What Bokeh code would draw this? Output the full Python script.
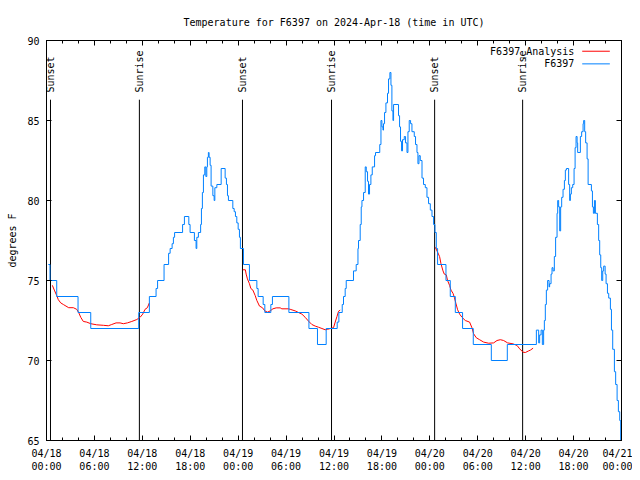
import math
import numpy as np
from bokeh.plotting import figure
from bokeh.models import FixedTicker, LinearAxis, Range1d
from bokeh.core.properties import value
from bokeh.embed import file_html
from bokeh.resources import INLINE

# ---- data (hours since 2024-04-18 00:00 UTC, degrees F) ----
obs_hours = [0.23, 0.44, 1.28, 3.95, 5.54, 11.55, 12.88, 13.72, 13.91, 14.72, 15.29, 15.48, 15.73, 15.89,
             16.04, 17.04, 17.27, 17.82, 17.98, 18.52, 18.73, 18.82, 19.02, 19.30, 19.40, 19.52, 19.65,
             19.82, 19.95, 20.07, 20.15, 20.27, 20.36, 20.49, 20.61, 20.83, 20.99, 21.08, 21.33, 21.87,
             22.37, 22.53, 22.66, 22.78, 23.33, 23.50, 23.66, 23.83, 24.00, 24.16, 24.28, 24.66, 25.41,
             26.34, 26.50, 27.13, 27.34, 28.09, 28.29, 30.35, 32.86, 33.93, 35.02, 36.40, 36.61, 37.03,
             37.19, 37.40, 37.53, 38.44, 38.78, 39.00, 39.07, 39.28, 39.41, 39.50, 39.70, 39.91, 40.04,
             40.20, 40.32, 40.45, 40.62, 40.79, 41.08, 41.20, 41.73, 41.88, 42.00, 42.13, 42.20, 42.33,
             42.50, 42.70, 42.83, 43.00, 43.13, 43.25, 43.38, 43.46, 44.08, 44.21, 44.33, 44.46, 44.58,
             44.80, 44.96, 45.14, 45.26, 45.42, 45.59, 45.76, 46.05, 46.21, 46.39, 46.51, 46.64, 46.80,
             47.02, 47.21, 47.43, 47.64, 47.84, 48.06, 48.27, 48.47, 48.64, 48.81, 48.97, 50.02, 50.56,
             51.19, 52.10, 53.44, 55.70, 57.70, 61.34, 61.63, 61.75, 61.93, 62.09, 62.25, 62.34, 62.46,
             62.59, 62.75, 62.93, 63.00, 63.18, 63.30, 63.43, 63.59, 63.75, 63.93, 64.01, 64.13, 64.26,
             64.38, 64.51, 64.68, 64.85, 64.97, 65.10, 65.38, 65.51, 65.60, 65.72, 65.89, 66.06, 66.19,
             66.31, 66.44, 66.51, 66.85, 67.01, 67.19, 67.26, 67.39, 67.51, 67.69, 67.82, 68.23, 68.36,
             68.48, 68.61, 68.73, 68.98, 69.14, 69.27, 69.40, 69.52, 69.65, 69.77, 69.95, 70.07, 70.24,
             70.40, 70.61, 70.74, 70.90, 71.11, 71.27, 71.45, 71.61, 71.78, 71.90]
obs_temp = [76, 75, 74, 73, 72, 73, 74, 74.5, 75, 76, 76.7, 77, 77.3, 77.7,
            78, 78.5, 79, 78.5, 78, 77.5, 77, 77.7, 78, 78.5, 79.5, 80.5, 81.6,
            82.1, 81.5, 82.1, 82.7, 83, 82.7, 82.2, 80.9, 80.3, 80, 80.8, 81, 82,
            81.4, 81, 80.3, 80, 79.5, 79.3, 79, 78.6, 78.2, 77.7, 77, 76, 75,
            74.5, 74, 73.5, 73, 73.5, 74, 73, 72, 71, 72, 72.4, 73, 73.5,
            74, 74.5, 75, 75.6, 76, 77, 77.5, 78.5, 79.6, 80, 80.5, 82.1, 81.8,
            81.2, 80.4, 81, 81.6, 82.1, 82.8, 83, 83.5, 85, 84.6, 84.4, 84.8, 85.5,
            86.1, 86.7, 87.6, 88, 87.2, 85.6, 85, 86, 85.3, 84.6, 83.7, 83.1, 83.8,
            84, 83.6, 83, 84.3, 85, 84.8, 84.3, 84, 83.5, 83, 82.3, 82.8, 82.5,
            81.4, 81, 80.8, 80.2, 79.8, 79.4, 79, 78.5, 78, 77, 76, 75, 74,
            73, 72, 71, 70, 71, 71.9, 71.1, 71.6, 71.9, 71, 71.9, 72.5, 73.5,
            74.4, 75, 74.6, 74.8, 75.4, 75.8, 75.6, 76.5, 77.7, 79.2, 80, 79.6, 78.1,
            79.6, 80.2, 80.7, 81.25, 81.9, 82, 81, 80, 80.4, 80.8, 81, 82, 83.3,
            84, 83.6, 83, 84, 84.3, 84.8, 85, 84.3, 83.6, 82.6, 81, 80.6, 79.6,
            79.2, 80, 79.2, 78.5, 77.5, 76.6, 75.8, 75, 75.6, 75.9, 75.4, 74.8, 74.2,
            73.9, 73.2, 71.9, 70.7, 69.3, 68.5, 67.5, 66.8, 66.25, 65]

ana1_hours = [0.73, 0.98, 1.28, 1.48, 1.78, 2.11, 2.44, 2.78, 3.36, 3.78, 4.03, 4.29, 4.61, 5.04, 5.54,
              6.29, 7.12, 7.74, 8.17, 8.71, 9.21, 9.62, 10.13, 10.68, 11.30, 11.72, 12.05, 12.34, 12.63, 12.88]
ana1_temp = [74.7, 74.4, 74.06, 73.8, 73.6, 73.5, 73.4, 73.3, 73.3, 73.2, 73.0, 72.7, 72.44, 72.4, 72.3,
             72.23, 72.2, 72.17, 72.25, 72.35, 72.35, 72.3, 72.35, 72.44, 72.56, 72.7, 72.9, 73.2, 73.3, 73.6]
ana2_hours = [24.59, 24.90, 25.00, 25.16, 25.41, 25.59, 25.84, 26.13, 26.34, 26.67, 27.04, 27.34, 27.67,
              28.01, 28.35, 28.76, 29.26, 29.47, 30.30, 30.51, 31.14, 31.55, 31.98, 32.39, 32.81, 33.23,
              33.65, 34.06, 34.49, 34.90, 35.19, 35.53, 35.94, 36.15, 36.37, 36.57, 36.78]
ana2_temp = [75.67, 75.67, 75.4, 75.1, 74.8, 74.5, 74.4, 74.06, 73.75, 73.4, 73.3, 73.1, 73.02,
             73.1, 73.23, 73.29, 73.29, 73.23, 73.23, 73.2, 73.1, 73.0, 72.9, 72.7, 72.46, 72.25,
             72.15, 72.08, 72.0, 71.92, 71.95, 72.0, 72.05, 72.4, 72.75, 73.08, 73.15]
ana3_hours = [48.68, 48.97, 49.22, 49.40, 49.65, 49.81, 50.06, 50.22, 50.47, 50.65, 50.90, 51.06, 51.28,
              51.48, 51.73, 52.03, 52.44, 52.98, 53.28, 53.48, 53.82, 54.23, 54.74, 55.36, 55.99, 56.41,
              56.83, 57.24, 57.74, 58.42, 58.92, 59.25, 59.67, 59.96, 60.37, 60.59, 60.93]
ana3_temp = [77.08, 76.77, 76.5, 76.04, 75.6, 75.4, 75.35, 75.0, 74.7, 74.4, 74.2, 73.96, 73.54,
             73.17, 72.9, 72.7, 72.5, 72.4, 72.04, 71.67, 71.42, 71.3, 71.15, 71.08, 71.1, 71.25,
             71.3, 71.25, 71.1, 71.04, 70.94, 70.73, 70.52, 70.5, 70.6, 70.65, 70.77]

event_hours = [0.50, 11.63, 24.54, 35.69, 48.60, 59.62]
event_labels = ["Sunset", "Sunrise", "Sunset", "Sunrise", "Sunset", "Sunrise"]
event_top = 86.3

x_tick_hours = [0, 6, 12, 18, 24, 30, 36, 42, 48, 54, 60, 66, 72]
x_tick_labels = ["04/18\n00:00", "04/18\n06:00", "04/18\n12:00", "04/18\n18:00",
                 "04/19\n00:00", "04/19\n06:00", "04/19\n12:00", "04/19\n18:00",
                 "04/20\n00:00", "04/20\n06:00", "04/20\n12:00", "04/20\n18:00",
                 "04/21\n00:00"]
y_ticks = [65, 70, 75, 80, 85, 90]

series_names = ["F6397_Analysis", "F6397"]
series_colors = ["#ff0000", "#0080ff"]

FONT = "DejaVu Sans Mono"
FS = "10px"

p = figure(frame_width=575, frame_height=400,
           min_border_left=46, min_border_right=11, min_border_top=40, min_border_bottom=34,
           x_range=Range1d(0, 72), y_range=Range1d(65, 90),
           output_backend="svg", toolbar_location=None,
           title="Temperature for F6397 on 2024-Apr-18 (time in UTC)")
p.title.align = "center"
p.title.text_font = FONT
p.title.text_font_size = FS
p.title.text_font_style = "normal"
p.title.text_color = "black"
p.title.standoff = 26
p.grid.visible = False
p.outline_line_color = "black"
p.outline_line_width = 1
p.background_fill_color = "white"
p.border_fill_color = "white"

xt = FixedTicker(ticks=x_tick_hours, minor_ticks=list(range(0, 73, 2)))
yt = FixedTicker(ticks=y_ticks, minor_ticks=[])

xa = p.xaxis[0]
xa.ticker = xt
xa.major_label_overrides = {h: lab for h, lab in zip(x_tick_hours, x_tick_labels)}
ya = p.yaxis[0]
ya.ticker = yt
ya.axis_label = "degrees F"

# mirrored tick marks on top and right (no labels)
top_axis = LinearAxis(ticker=xt, major_label_text_font_size="1px", major_label_text_color=None,
                      major_label_standoff=0)
right_axis = LinearAxis(ticker=yt, major_label_text_font_size="1px", major_label_text_color=None,
                        major_label_standoff=0)
p.add_layout(top_axis, "above")
p.add_layout(right_axis, "right")

for ax in [xa, ya, top_axis, right_axis]:
    ax.axis_line_color = "black"
    ax.major_tick_line_color = "black"
    ax.minor_tick_line_color = "black"
    ax.major_tick_in = 5
    ax.major_tick_out = 0
    ax.minor_tick_in = 3
    ax.minor_tick_out = 0
    ax.major_label_text_font = FONT
    ax.axis_label_text_font = FONT
    ax.axis_label_text_font_size = FS
    ax.axis_label_text_font_style = "normal"
    ax.axis_label_text_color = "black"
for ax in [xa, ya]:
    ax.major_label_text_font_size = FS
    ax.major_label_text_color = "black"
ya.major_label_standoff = 7
ya.axis_label_standoff = 6
xa.major_label_standoff = 7

# sunrise / sunset markers
p.segment(x0=event_hours, y0=[65] * len(event_hours), x1=event_hours, y1=[event_top] * len(event_hours),
          line_color="black", line_width=1)
p.text(x=event_hours, y=[event_top + 0.45] * len(event_hours), text=event_labels, angle=math.pi / 2,
       text_align="left", text_baseline="middle", text_font=value(FONT), text_font_size=FS,
       text_color="black")

# analysis
for hh, tt in [(ana1_hours, ana1_temp), (ana2_hours, ana2_temp), (ana3_hours, ana3_temp)]:
    p.line(hh, tt, line_color=series_colors[0], line_width=1)
# observations
p.step(obs_hours, obs_temp, mode="after", line_color=series_colors[1], line_width=1)

# key (gnuplot style: label then sample)
key_text_x = 66.1
key_rows = [89.33, 88.54]
p.text(x=[key_text_x] * 2, y=key_rows, text=series_names, text_align="right", text_baseline="middle",
       text_font=value(FONT), text_font_size=FS, text_color="black")
p.segment(x0=[67.08] * 2, y0=key_rows, x1=[70.54] * 2, y1=key_rows, line_color=series_colors, line_width=1)

open("out.html", "w").write(file_html(p, INLINE))
